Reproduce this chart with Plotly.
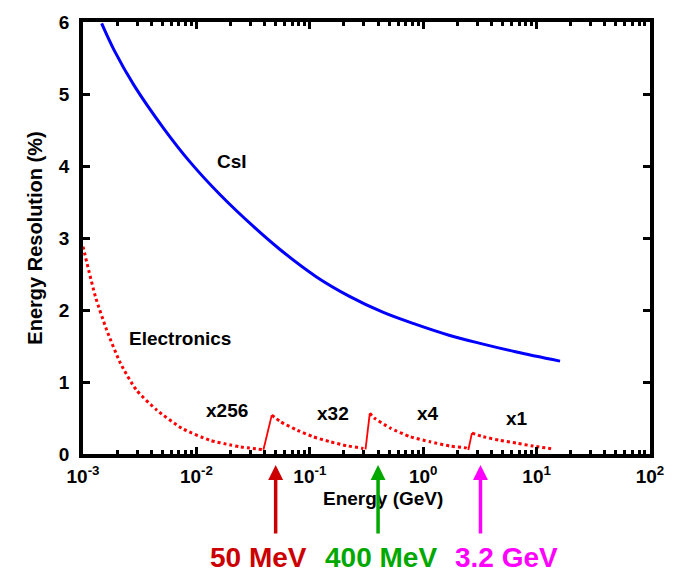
import numpy as np
import plotly.graph_objects as go

# CsI crystal energy resolution (%) versus deposited energy (GeV)
csi_energy = [0.00146, 0.00188, 0.00282, 0.00516, 0.00885, 0.0162, 0.0318,
              0.0546, 0.1146, 0.224, 0.44, 0.863, 1.69, 3.31, 6.5, 16.1]
csi_resolution = [5.98, 5.61, 5.12, 4.52, 4.05, 3.60, 3.16,
                  2.84, 2.46, 2.19, 1.97, 1.80, 1.65, 1.53, 1.42, 1.29]

# Electronics noise contribution, one list per preamp gain range
x256_energy = [0.001, 0.00129, 0.00162, 0.00214, 0.00295, 0.00447, 0.00759,
               0.0132, 0.02, 0.024, 0.039]
x256_resolution = [2.88, 2.18, 1.72, 1.26, 0.89, 0.61, 0.35,
                   0.19, 0.125, 0.10, 0.06]
x32_energy = [0.0462, 0.055, 0.0776, 0.107, 0.151, 0.211, 0.288, 0.31]
x32_resolution = [0.54, 0.45, 0.33, 0.24, 0.17, 0.115, 0.08, 0.065]
x4_energy = [0.338, 0.37, 0.513, 0.767, 1.15, 1.72, 2.42, 2.5]
x4_resolution = [0.565, 0.50, 0.36, 0.24, 0.17, 0.11, 0.08, 0.055]
x1_energy = [2.69, 3.39, 4.75, 6.68, 9.33, 14.1]
x1_resolution = [0.29, 0.24, 0.19, 0.15, 0.11, 0.07]

gain_names = ["x256", "x32", "x4", "x1"]

# Gain switching thresholds (GeV) and their labels
switch_energy = [0.05, 0.4, 3.2]
switch_labels = ["50 MeV", "400 MeV", "3.2 GeV"]
switch_colors = ["#cc0000", "#00a800", "#ff00ff"]

# Axis ticks
y_ticks = [0, 1, 2, 3, 4, 5, 6]
x_exponents = [-3, -2, -1, 0, 1, 2]

FONT = "Liberation Sans, Arial, sans-serif"
RED = "#ff0000"

segments = [(x256_energy, x256_resolution), (x32_energy, x32_resolution),
            (x4_energy, x4_resolution), (x1_energy, x1_resolution)]

fig = go.Figure()

fig.add_trace(go.Scatter(
    x=csi_energy, y=csi_resolution, mode="lines", name="CsI",
    line=dict(color="#0000ff", width=3, shape="spline", smoothing=1.0),
    showlegend=False, hoverinfo="skip"))

for name, (e, r) in zip(gain_names, segments):
    fig.add_trace(go.Scatter(
        x=e, y=r, mode="lines", name=name,
        line=dict(color=RED, width=3, dash="3px,3px", shape="spline", smoothing=0.6),
        showlegend=False, hoverinfo="skip"))

# steps where the gain range changes
for (e0, r0), (e1, r1) in zip(segments[:-1], segments[1:]):
    fig.add_trace(go.Scatter(
        x=[e0[-1], e1[0]], y=[r0[-1], r1[0]], mode="lines",
        line=dict(color=RED, width=1.8), showlegend=False, hoverinfo="skip"))

# Plot area geometry in pixels, used for label placement
W, H = 675, 573
L, R, T, B = 83, 25, 22, 119
PW, PH = W - L - R, H - T - B


def px_x(p):
    return (p - L) / PW


def px_y(p):
    return (H - B - p) / PH


annotations = []

label_font = dict(family=FONT, size=19, color="black", weight="bold")

# Curve labels
text_labels = [("CsI", -1.688, 4.06), ("Electronics", -2.145, 1.61)]
gain_label_pos = [(-1.73, 0.60), (-0.796, 0.56), (0.042, 0.56), (0.827, 0.50)]
for name, (lx, ly) in zip(gain_names, gain_label_pos):
    text_labels.append((name, lx, ly))
for txt, lx, ly in text_labels:
    annotations.append(dict(x=lx, y=ly, xref="x", yref="y", text=txt,
                            showarrow=False, font=label_font))

# x-axis title
annotations.append(dict(x=px_x(383), y=px_y(498), xref="paper", yref="paper",
                        text="Energy (GeV)", showarrow=False, font=label_font,
                        xanchor="center", yanchor="middle"))

# Threshold arrows and labels
label_centers = [258, 381, 506]
for e, txt, col, cx in zip(switch_energy, switch_labels, switch_colors, label_centers):
    annotations.append(dict(x=np.log10(e), y=px_y(465), xref="x", yref="paper",
                            ax=0, ay=70, axref="pixel", ayref="pixel",
                            text="", showarrow=True, arrowhead=2, arrowsize=0.85,
                            arrowwidth=3.5, arrowcolor=col))
    annotations.append(dict(x=px_x(cx), y=px_y(557), xref="paper", yref="paper",
                            text=txt, showarrow=False,
                            font=dict(family=FONT, size=28, color=col, weight="bold"),
                            xanchor="center", yanchor="middle"))

minor_x = [m * 10.0 ** k for k in range(-3, 2) for m in range(2, 10)]

fig.update_layout(
    width=W, height=H,
    margin=dict(l=L, r=R, t=T, b=B, autoexpand=False),
    paper_bgcolor="white", plot_bgcolor="white",
    font=dict(family=FONT, color="black"),
    annotations=annotations,
    xaxis=dict(
        type="log", range=[-3, 2],
        tickvals=[10.0 ** k for k in x_exponents],
        ticktext=[f"10<sup>{k}</sup>" for k in x_exponents],
        tickfont=dict(family=FONT, size=19, color="black", weight="bold"),
        ticks="inside", ticklen=7, tickwidth=2.5, tickcolor="black",
        ticklabelstandoff=2,
        minor=dict(tickvals=minor_x, ticks="inside", ticklen=4,
                   tickwidth=2.5, tickcolor="black", showgrid=False),
        showline=True, linewidth=3.5, linecolor="black", mirror="allticks",
        showgrid=False, zeroline=False, automargin=False),
    yaxis=dict(
        range=[0, 6], tickvals=y_ticks,
        tickfont=dict(family=FONT, size=19, color="black", weight="bold"),
        ticks="inside", ticklen=7, tickwidth=2.5, tickcolor="black",
        ticklabelstandoff=6,
        title=dict(text="Energy Resolution (%)", standoff=12,
                   font=dict(family=FONT, size=20, color="black", weight="bold")),
        showline=True, linewidth=3.5, linecolor="black", mirror="allticks",
        showgrid=False, zeroline=False, automargin=False),
)

fig.write_html("out.html")
